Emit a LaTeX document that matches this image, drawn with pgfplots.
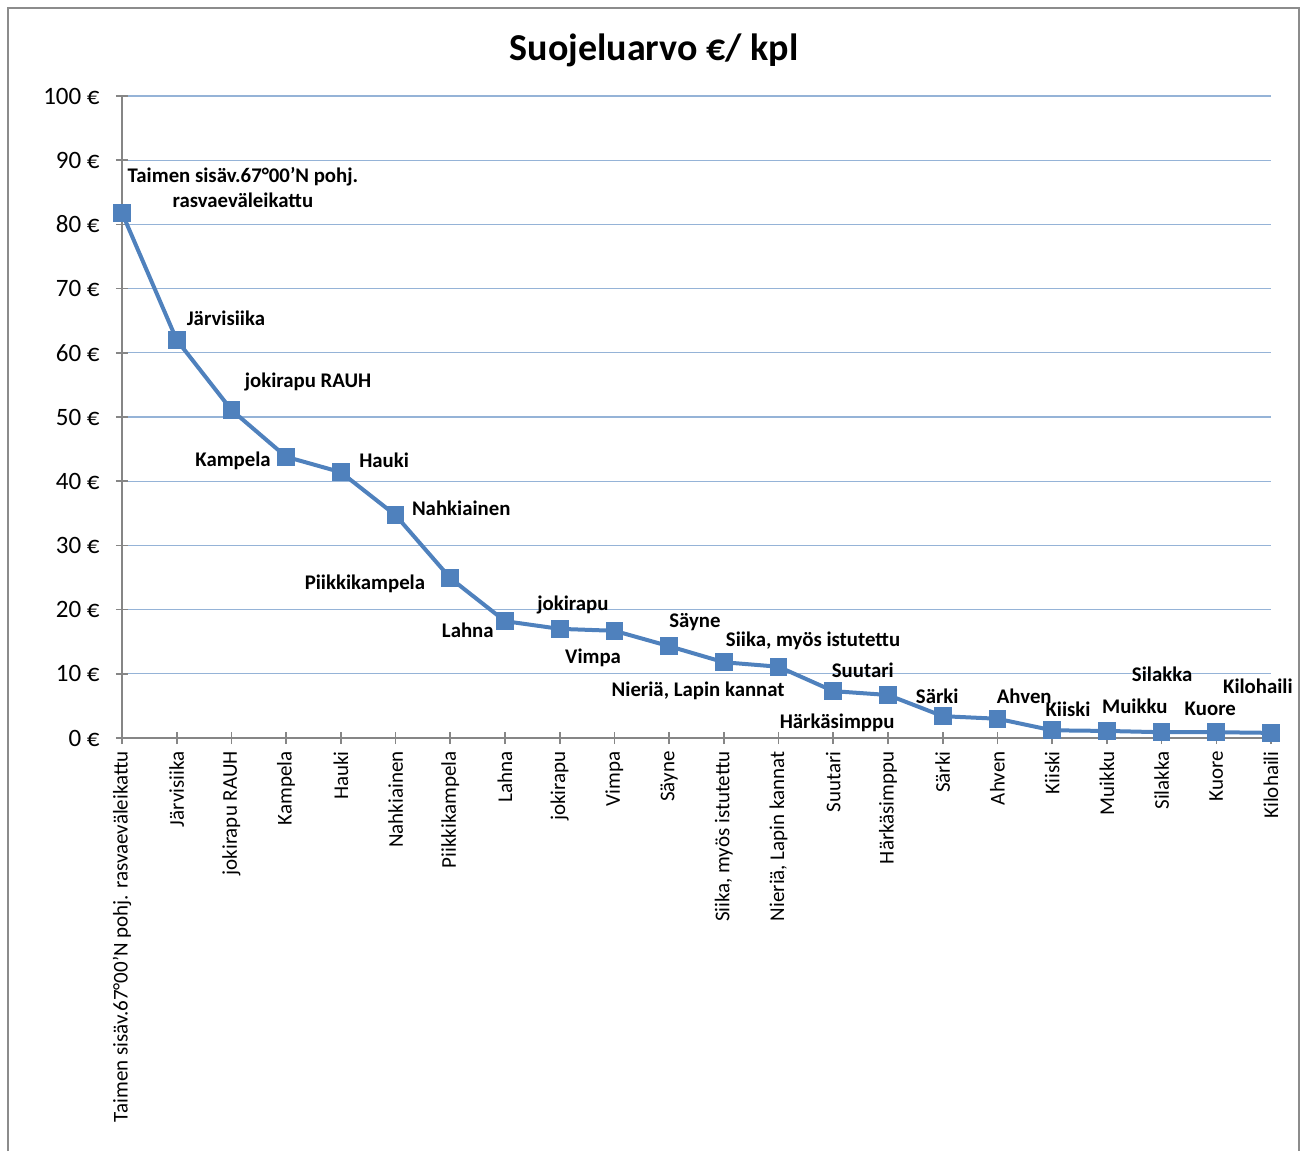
\documentclass[border=0pt]{standalone}
\usepackage{pgfplots}
\pgfplotsset{compat=1.18}
\usepackage{fontspec}
\setmainfont{Carlito}
\definecolor{serie}{HTML}{4F81BD}
\definecolor{gridblue}{HTML}{95B3D7}
\definecolor{axisgray}{HTML}{868686}
\definecolor{framegray}{HTML}{8C8C8C}
\begin{document}
\begin{tikzpicture}
\draw[framegray, line width=1pt] (4pt,0pt) -- (4pt,571.5pt) -- (649.5pt,571.5pt) -- (649.5pt,0pt);
\node[font=\fontsize{19}{22}\selectfont\bfseries] at (327pt,550.5pt) {Suojeluarvo €/ kpl};
\begin{axis}[
  at={(61pt,206.5pt)}, anchor=south west,
  scale only axis, width=574.5pt, height=321pt,
  xmin=0, xmax=21, ymin=0, ymax=100,
  axis lines*=left,
  axis line style={axisgray, line width=0.8pt},
  tick align=center, major tick length=6pt,
  tick style={axisgray, line width=0.8pt},
  ymajorgrids, grid style={gridblue, line width=0.6pt},
  xtick={0,...,21},
  xticklabels={{Taimen sisäv.67°00’N pohj. rasvaeväleikattu},Järvisiika,{jokirapu RAUH},Kampela,Hauki,Nahkiainen,Piikkikampela,Lahna,jokirapu,Vimpa,Säyne,{Siika, myös istutettu},{Nieriä, Lapin kannat},Suutari,Härkäsimppu,Särki,Ahven,Kiiski,Muikku,Silakka,Kuore,Kilohaili},
  xticklabel style={rotate=90, anchor=east, inner sep=0pt, xshift=-3.5pt, font=\fontsize{10.5}{12}\selectfont},
  ytick={0,10,...,100},
  yticklabels={0 €,10 €,20 €,30 €,40 €,50 €,60 €,70 €,80 €,90 €,100 €},
  yticklabel style={anchor=east, inner sep=0pt, xshift=-8pt, font=\fontsize{12.5}{14}\selectfont},
  clip=false,
]
\addplot[color=serie, line width=2pt, mark=square*, mark size=4.2pt, mark options={solid, fill=serie, draw=serie, line width=0pt}]
coordinates {
(0,81.8) (1,62.0) (2,51.1) (3,43.8) (4,41.4) (5,34.7) (6,24.9) (7,18.2) (8,17.0) (9,16.7) (10,14.3)
(11,11.8) (12,11.1) (13,7.3) (14,6.7) (15,3.4) (16,3.0) (17,1.2) (18,1.1) (19,0.9) (20,0.9) (21,0.8)
};
\begin{scope}[every node/.style={font=\fontsize{10.4}{12.5}\selectfont\bfseries, inner sep=0pt}]
\node[align=center] at (axis cs:2.21,85.8) {Taimen sisäv.67°00’N pohj.\\rasvaeväleikattu};
\node at (axis cs:1.90,65.3) {Järvisiika};
\node at (axis cs:3.40,55.5) {jokirapu RAUH};
\node at (axis cs:2.03,43.1) {Kampela};
\node at (axis cs:4.79,43.3) {Hauki};
\node at (axis cs:6.20,35.8) {Nahkiainen};
\node at (axis cs:4.44,24.0) {Piikkikampela};
\node at (axis cs:6.32,16.8) {Lahna};
\node at (axis cs:8.24,20.7) {jokirapu};
\node at (axis cs:8.61,12.5) {Vimpa};
\node at (axis cs:10.47,18.1) {Säyne};
\node at (axis cs:12.63,15.1) {Siika, myös istutettu};
\node at (axis cs:10.53,7.3) {Nieriä, Lapin kannat};
\node at (axis cs:13.54,10.6) {Suutari};
\node at (axis cs:13.07,2.3) {Härkäsimppu};
\node at (axis cs:14.90,6.5) {Särki};
\node at (axis cs:16.49,6.5) {Ahven};
\node at (axis cs:17.29,4.5) {Kiiski};
\node at (axis cs:18.51,5.0) {Muikku};
\node at (axis cs:19.01,10.0) {Silakka};
\node at (axis cs:19.89,4.5) {Kuore};
\node at (axis cs:20.76,8.1) {Kilohaili};
\end{scope}
\end{axis}
\pgfresetboundingbox
\path[use as bounding box] (0pt,0pt) rectangle (654.5pt,575.5pt);
\end{tikzpicture}
\end{document}
